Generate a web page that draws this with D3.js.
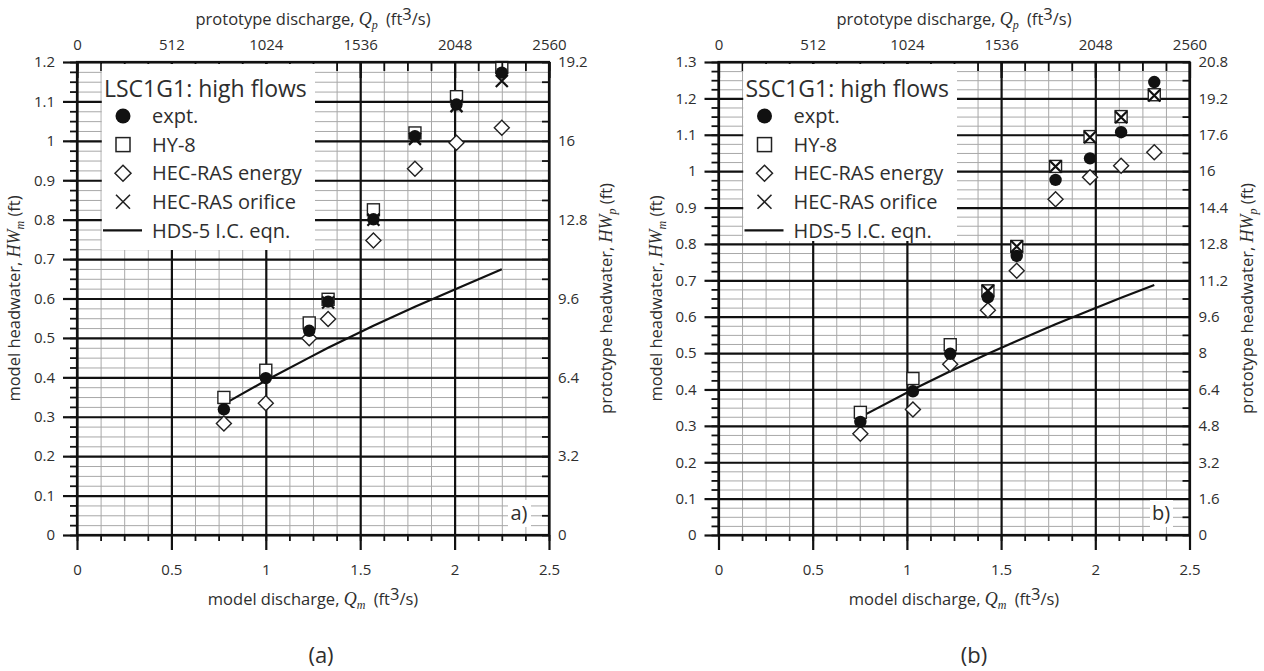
<!DOCTYPE html>
<html><head><meta charset="utf-8">
<script src="https://cdn.jsdelivr.net/npm/d3@7"></script>
<style>
body{margin:0;background:#fff;}
svg{display:block;font-family:"Open Sans",sans-serif;}
</style></head><body>
<svg id="chart" width="1264" height="671"></svg>
<script>
// ---- panel (a): LSC1G1, high flows ----
const aQ        = [0.778, 1.0, 1.23, 1.33, 1.57, 1.79, 2.01, 2.25];
const aExpt     = [0.319, 0.398, 0.518, 0.592, 0.801, 1.012, 1.092, 1.173];
const aHY8      = [0.349, 0.418, 0.538, 0.598, 0.825, 1.020, 1.112, 1.186];
const aEnergy   = [0.283, 0.334, 0.499, 0.548, 0.747, 0.929, 0.995, 1.033];
const aOrifice  = [null, null, null, 0.590, 0.800, 1.005, 1.088, 1.152];
const aHDS      = [0.332, 0.392, 0.450, 0.475, 0.531, 0.579, 0.625, 0.674];

// ---- panel (b): SSC1G1, high flows ----
const bQ        = [0.753, 1.032, 1.23, 1.43, 1.583, 1.789, 1.972, 2.137, 2.313];
const bExpt     = [0.311, 0.395, 0.498, 0.653, 0.767, 0.976, 1.035, 1.107, 1.245];
const bHY8      = [0.337, 0.430, 0.523, 0.671, 0.793, 1.013, 1.095, 1.150, 1.210];
const bEnergy   = [0.278, 0.345, 0.469, 0.618, 0.726, 0.923, 0.983, 1.015, 1.052];
const bOrifice  = [null, null, null, 0.671, 0.793, 1.013, 1.093, 1.148, 1.208];
const bHDS      = [0.324, 0.400, 0.450, 0.498, 0.533, 0.579, 0.618, 0.652, 0.687];

// ---- tick labels ----
const qModelLabels = [0, 0.5, 1, 1.5, 2, 2.5];
const qProtoLabels = [0, 512, 1024, 1536, 2048, 2560];
const aHwLabels    = [0, 0.1, 0.2, 0.3, 0.4, 0.5, 0.6, 0.7, 0.8, 0.9, 1, 1.1, 1.2];
const aHwpLabels   = [0, 3.2, 6.4, 9.6, 12.8, 16, 19.2];
const bHwLabels    = [0, 0.1, 0.2, 0.3, 0.4, 0.5, 0.6, 0.7, 0.8, 0.9, 1, 1.1, 1.2, 1.3];
const bHwpLabels   = [0, 1.6, 3.2, 4.8, 6.4, 8, 9.6, 11.2, 12.8, 14.4, 16, 17.6, 19.2, 20.8];

const legendNames = ["expt.", "HY-8", "HEC-RAS energy", "HEC-RAS orifice", "HDS-5 I.C. eqn."];

const svg = d3.select("#chart");
svg.append("rect").attr("width", 1264).attr("height", 671).attr("fill", "#fff");

const INK = "#2e2e2e";
const SERIF = "'Liberation Serif', 'DejaVu Serif', serif";

function styleText(sel, size) {
  sel.selectAll("text").attr("font-size", size).attr("fill", INK)
     .attr("font-family", "'Open Sans', sans-serif");
}

function drawPanel(p) {
  const top = 62, bottom = 535;
  const x = d3.scaleLinear().domain([0, 2.5]).range([p.left, p.right]);
  const y = d3.scaleLinear().domain([0, p.yMax]).range([bottom, top]);
  const xTop = d3.scaleLinear().domain([0, 2560]).range([p.left, p.right]);
  const yRight = d3.scaleLinear().domain([0, p.yMax * 16]).range([bottom, top]);
  const W = p.right - p.left, H = bottom - top;
  const g = svg.append("g");

  const xMinor = d3.range(0, 2.5 + 1e-9, 0.125);
  const yMinor = d3.range(0, p.yMax + 1e-9, 0.025);

  // grid lines
  function grid(axis, tr, values, size, color, width) {
    const a = g.append("g").attr("transform", tr)
      .call(axis.tickValues(values).tickSize(size).tickFormat(""));
    a.select(".domain").remove();
    a.selectAll("line").attr("stroke", color).attr("stroke-width", width);
    return a;
  }
  grid(d3.axisBottom(x), `translate(0,${bottom})`, xMinor, -H, "#a8a8a8", 1);
  grid(d3.axisLeft(y), `translate(${p.left},0)`, yMinor, -W, "#a8a8a8", 1);
  grid(d3.axisBottom(x), `translate(0,${bottom})`, qModelLabels, -H, "#111", 2.2);
  grid(d3.axisLeft(y), `translate(${p.left},0)`, p.hwLabels, -W, "#111", 2.2);

  // legend background
  const lg = g.append("g");
  lg.append("rect")
    .attr("x", x(0.125) + 1.2).attr("y", top + 2)
    .attr("width", p.legendRight - x(0.125) - 1.2)
    .attr("height", p.legendBottom - top - 2)
    .attr("fill", "#fff");

  // HDS-5 inlet-control curve
  const line = d3.line().x((d, i) => x(p.q[i])).y(d => y(d));
  g.append("path").datum(p.hds).attr("d", line)
    .attr("fill", "none").attr("stroke", "#111").attr("stroke-width", 2.2);

  const pts = (arr) => arr.map((v, i) => ({q: p.q[i], v})).filter(d => d.v != null);

  // HY-8 squares
  g.selectAll(null).data(pts(p.hy8)).join("rect")
    .attr("x", d => x(d.q) - 6).attr("y", d => y(d.v) - 6)
    .attr("width", 12).attr("height", 12)
    .attr("fill", "#fff").attr("stroke", "#222").attr("stroke-width", 1.4);
  // HEC-RAS energy diamonds
  g.selectAll(null).data(pts(p.energy)).join("path")
    .attr("d", d => { const cx = x(d.q), cy = y(d.v), r = 7.5;
      return `M${cx},${cy - r}L${cx + r},${cy}L${cx},${cy + r}L${cx - r},${cy}Z`; })
    .attr("fill", "#fff").attr("stroke", "#222").attr("stroke-width", 1.4);
  // experiments
  g.selectAll(null).data(pts(p.expt)).join("circle")
    .attr("cx", d => x(d.q)).attr("cy", d => y(d.v)).attr("r", 6.2)
    .attr("fill", "#111");
  // HEC-RAS orifice crosses
  g.selectAll(null).data(pts(p.orifice)).join("path")
    .attr("d", d => { const cx = x(d.q), cy = y(d.v), r = 6;
      return `M${cx - r},${cy - r}L${cx + r},${cy + r}M${cx - r},${cy + r}L${cx + r},${cy - r}`; })
    .attr("fill", "none").attr("stroke", "#111").attr("stroke-width", 2.2);

  // left axis
  let a = g.append("g").attr("transform", `translate(${p.left},0)`)
    .call(d3.axisLeft(y).tickValues(yMinor).tickSize(7).tickFormat(""));
  a.select(".domain").remove(); a.selectAll("line").attr("stroke", "#111").attr("stroke-width", 1.8);
  a = g.append("g").attr("transform", `translate(${p.left},0)`)
    .call(d3.axisLeft(y).tickValues(p.hwLabels).tickSize(14).tickPadding(8).tickFormat(d => String(d)));
  a.select(".domain").remove(); a.selectAll("line").attr("stroke", "#111").attr("stroke-width", 2.2);
  styleText(a, 15);

  // bottom axis
  a = g.append("g").attr("transform", `translate(0,${bottom})`)
    .call(d3.axisBottom(x).tickValues(xMinor).tickSize(6).tickFormat(""));
  a.select(".domain").remove(); a.selectAll("line").attr("stroke", "#111").attr("stroke-width", 1.8);
  a = g.append("g").attr("transform", `translate(0,${bottom})`)
    .call(d3.axisBottom(x).tickValues(qModelLabels).tickSize(15).tickPadding(14).tickFormat(d => String(d)));
  a.select(".domain").remove(); a.selectAll("line").attr("stroke", "#111").attr("stroke-width", 2.2);
  styleText(a, 15);

  // top axis (prototype discharge)
  a = g.append("g").attr("transform", `translate(0,${top})`)
    .call(d3.axisTop(xTop).tickValues(d3.range(0, 2561, 128)).tickSize(-9).tickFormat(""));
  a.select(".domain").remove(); a.selectAll("line").attr("stroke", "#111").attr("stroke-width", 1.8);
  a = g.append("g").attr("transform", `translate(0,${top})`)
    .call(d3.axisTop(xTop).tickValues(qProtoLabels).tickSize(-16).tickPadding(12).tickFormat(d => String(d)));
  a.select(".domain").remove(); a.selectAll("line").attr("stroke", "#111").attr("stroke-width", 2.2);
  styleText(a, 15);

  // right axis (prototype headwater)
  a = g.append("g").attr("transform", `translate(${p.right},0)`)
    .call(d3.axisRight(yRight).tickValues(d3.range(0, p.yMax * 16 + 1e-6, 0.8)).tickSize(-7).tickFormat(""));
  a.select(".domain").remove(); a.selectAll("line").attr("stroke", "#111").attr("stroke-width", 1.8);
  a = g.append("g").attr("transform", `translate(${p.right},0)`)
    .call(d3.axisRight(yRight).tickValues(p.hwpLabels).tickSize(0).tickPadding(9).tickFormat(d => String(d)));
  a.select(".domain").remove();
  styleText(a, 15);

  // frame
  g.append("rect").attr("x", p.left).attr("y", top).attr("width", W).attr("height", H)
    .attr("fill", "none").attr("stroke", "#111").attr("stroke-width", 2.2);

  // legend contents
  lg.raise();
  lg.append("text").attr("x", p.left + 27).attr("y", 97)
    .attr("font-size", 23).attr("fill", INK).text(p.title);
  const sx = p.left + 46, rowY = i => 116 + i * 28.6;
  lg.append("circle").attr("cx", sx).attr("cy", rowY(0)).attr("r", 7.5).attr("fill", "#111");
  lg.append("rect").attr("x", sx - 7).attr("y", rowY(1) - 7).attr("width", 14).attr("height", 14)
    .attr("fill", "#fff").attr("stroke", "#222").attr("stroke-width", 1.5);
  lg.append("path").attr("d", `M${sx},${rowY(2) - 8}L${sx + 8},${rowY(2)}L${sx},${rowY(2) + 8}L${sx - 8},${rowY(2)}Z`)
    .attr("fill", "#fff").attr("stroke", "#222").attr("stroke-width", 1.5);
  lg.append("path").attr("d", `M${sx - 7},${rowY(3) - 7}L${sx + 7},${rowY(3) + 7}M${sx - 7},${rowY(3) + 7}L${sx + 7},${rowY(3) - 7}`)
    .attr("stroke", "#222").attr("stroke-width", 1.6);
  lg.append("line").attr("x1", p.left + 26).attr("x2", p.left + 65)
    .attr("y1", rowY(4)).attr("y2", rowY(4)).attr("stroke", "#111").attr("stroke-width", 2.2);
  legendNames.forEach((name, i) => {
    lg.append("text").attr("x", p.left + 75).attr("y", rowY(i)).attr("dy", "0.36em")
      .attr("font-size", 20).attr("fill", INK).text(name);
  });

  // panel tag inside plot
  g.append("rect").attr("x", p.tagX - 11).attr("y", 500).attr("width", 23).attr("height", 27).attr("fill", "#fff");
  g.append("text").attr("x", p.tagX).attr("y", 513).attr("dy", "0.36em").attr("text-anchor", "middle")
    .attr("font-size", 20).attr("fill", INK).text(p.tag);

  // axis titles
  const cx = (p.left + p.right) / 2, cy = (top + bottom) / 2;
  const topT = g.append("text").attr("x", cx).attr("y", 25).attr("text-anchor", "middle")
    .attr("font-size", 16.5).attr("fill", INK);
  topT.append("tspan").text("prototype discharge, ");
  topT.append("tspan").attr("font-family", SERIF).attr("font-style", "italic").attr("font-size", 18).text("Q");
  topT.append("tspan").attr("font-family", SERIF).attr("font-style", "italic").attr("font-size", 12).attr("dy", 4).text("p");
  topT.append("tspan").attr("dy", -4).text("\u2002(ft");
  topT.append("tspan").attr("dy", -5).text("3");
  topT.append("tspan").attr("dy", 5).text("/s)");

  const botT = g.append("text").attr("x", cx).attr("y", 605).attr("text-anchor", "middle")
    .attr("font-size", 16.5).attr("fill", INK);
  botT.append("tspan").text("model discharge, ");
  botT.append("tspan").attr("font-family", SERIF).attr("font-style", "italic").attr("font-size", 18).text("Q");
  botT.append("tspan").attr("font-family", SERIF).attr("font-style", "italic").attr("font-size", 12).attr("dy", 4).text("m");
  botT.append("tspan").attr("dy", -4).text("\u2002(ft");
  botT.append("tspan").attr("dy", -5).text("3");
  botT.append("tspan").attr("dy", 5).text("/s)");

  const leftT = g.append("text").attr("transform", `translate(${p.left - 57},${cy}) rotate(-90)`)
    .attr("text-anchor", "middle").attr("font-size", 16.5).attr("fill", INK);
  leftT.append("tspan").text("model headwater, ");
  leftT.append("tspan").attr("font-family", SERIF).attr("font-style", "italic").attr("font-size", 18).text("HW");
  leftT.append("tspan").attr("font-family", SERIF).attr("font-style", "italic").attr("font-size", 12).attr("dy", 4).text("m");
  leftT.append("tspan").attr("dy", -4).text(" (ft)");

  const rightT = g.append("text").attr("transform", `translate(${p.right + 63},${cy}) rotate(-90)`)
    .attr("text-anchor", "middle").attr("font-size", 16.5).attr("fill", INK);
  rightT.append("tspan").text("prototype headwater, ");
  rightT.append("tspan").attr("font-family", SERIF).attr("font-style", "italic").attr("font-size", 18).text("HW");
  rightT.append("tspan").attr("font-family", SERIF).attr("font-style", "italic").attr("font-size", 12).attr("dy", 4).text("p");
  rightT.append("tspan").attr("dy", -4).text(" (ft)");

  // caption
  svg.append("text").attr("x", p.captionX).attr("y", 663).attr("text-anchor", "middle")
    .attr("font-size", 22).attr("fill", INK).text(p.caption);
}

drawPanel({
  left: 77, right: 549, yMax: 1.2,
  hwLabels: aHwLabels, hwpLabels: aHwpLabels,
  q: aQ, expt: aExpt, hy8: aHY8, energy: aEnergy, orifice: aOrifice, hds: aHDS,
  title: "LSC1G1: high flows", legendRight: 315, legendBottom: 250,
  tag: "a)", tagX: 519, caption: "(a)", captionX: 321
});
drawPanel({
  left: 718.5, right: 1189.5, yMax: 1.3,
  hwLabels: bHwLabels, hwpLabels: bHwpLabels,
  q: bQ, expt: bExpt, hy8: bHY8, energy: bEnergy, orifice: bOrifice, hds: bHDS,
  title: "SSC1G1: high flows", legendRight: 957, legendBottom: 241,
  tag: "b)", tagX: 1161, caption: "(b)", captionX: 974
});
</script>
</body></html>
